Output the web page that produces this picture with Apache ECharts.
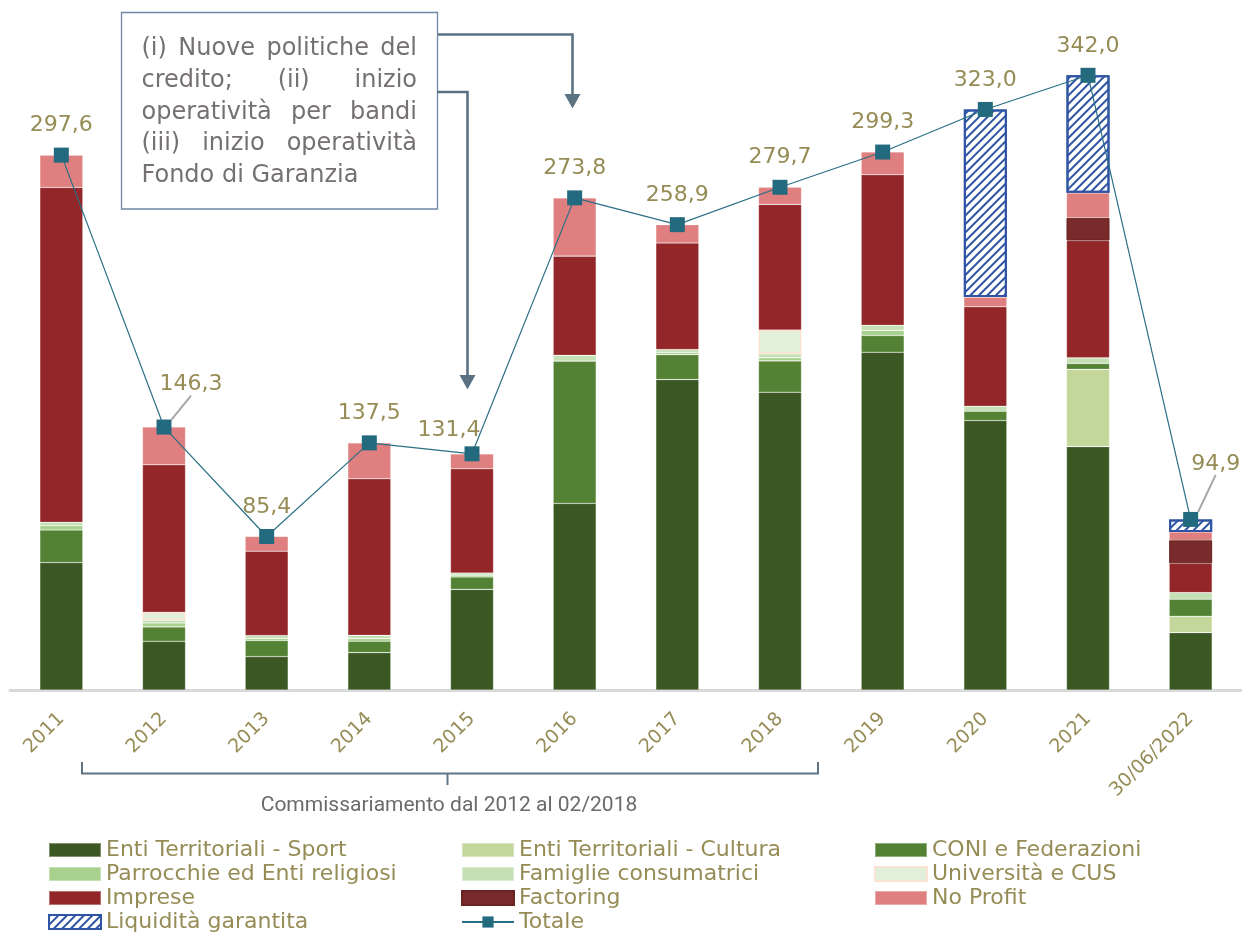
<!DOCTYPE html>
<html>
<head>
<meta charset="utf-8">
<script src="https://cdn.jsdelivr.net/npm/echarts@6/dist/echarts.min.js"></script>
<style>html,body{margin:0;padding:0;background:#fff;}#chart{width:1242px;height:933px;}</style>
</head>
<body>
<div id="chart"></div>
<script>
const categories = ['2011','2012','2013','2014','2015','2016','2017','2018','2019','2020','2021','30/06/2022'];
const sport      = [70.9, 27.1, 18.6, 20.8, 56.0, 103.8, 172.7, 165.7, 187.9, 149.9, 135.4, 31.9];
const cultura    = [0, 0, 0, 0, 0, 0, 0, 0, 0, 0, 43.0, 9.1];
const coni       = [18.1, 8.0, 8.9, 6.3, 6.9, 79.2, 13.9, 17.4, 9.3, 5.2, 3.3, 9.5];
const parrocchie = [2.4, 2.2, 1.2, 1.5, 1.0, 0, 1.2, 1.8, 2.9, 0, 0, 0];
const famiglie   = [1.9, 1.5, 1.6, 1.8, 1.2, 3.2, 1.6, 2.1, 2.8, 2.8, 3.1, 3.7];
const universita = [0, 4.4, 0, 0, 0, 0, 0, 13.3, 0, 0, 0, 0];
const imprese    = [186.3, 82.1, 46.9, 87.1, 58.0, 55.2, 59.3, 69.9, 83.8, 55.3, 65.3, 16.3];
const factoring  = [0, 0, 0, 0, 0, 0, 0, 0, 0, 0, 12.6, 12.8];
const noProfit   = [18.0, 21.0, 8.2, 20.0, 8.3, 32.4, 10.2, 9.5, 12.6, 5.4, 13.9, 4.6];
const liquidita  = [0, 0, 0, 0, 0, 0, 0, 0, 0, 104.4, 65.4, 7.0];
const totale     = [297.6, 146.3, 85.4, 137.5, 131.4, 273.8, 258.9, 279.7, 299.3, 323.0, 342.0, 94.9];

const FONT = 'DejaVu Sans';
const OLIVE = '#968c56';

function seg(name, data, color, extra) {
  return Object.assign({
    name: name, type: 'bar', stack: 'tot', barWidth: 43,
    data: data.map(v => v === 0 ? '-' : v),
    itemStyle: { color: color, borderColor: 'rgba(255,255,255,0.35)', borderWidth: 0.6 },
    emphasis: { disabled: true }
  }, extra || {});
}

const chart = echarts.init(document.getElementById('chart'), null, { renderer: 'canvas' });

// justified annotation text
const ANN_FONT = '24px "' + FONT + '"';
const measureCtx = document.createElement('canvas').getContext('2d');
measureCtx.font = ANN_FONT;
const annLines = [
  '(i) Nuove politiche del',
  'credito; (ii) inizio',
  'operatività per bandi',
  '(iii) inizio operatività',
  'Fondo di Garanzia'
];
const annLeft = 141.5, annRight = 417, annTop = 48.5, annStep = 31.9;
const annTexts = [];
annLines.forEach((line, i) => {
  const y = annTop + i * annStep;
  if (i === annLines.length - 1) {
    annTexts.push({ type: 'text', x: annLeft, y: y,
      style: { text: line, font: ANN_FONT, fill: '#767171', textVerticalAlign: 'middle', verticalAlign: 'middle' } });
    return;
  }
  const words = line.split(' ');
  const widths = words.map(w => measureCtx.measureText(w).width);
  const sum = widths.reduce((a, b) => a + b, 0);
  const gap = (annRight - annLeft - sum) / (words.length - 1);
  let x = annLeft;
  words.forEach((w, j) => {
    annTexts.push({ type: 'text', x: x, y: y,
      style: { text: w, font: ANN_FONT, fill: '#767171', textVerticalAlign: 'middle', verticalAlign: 'middle' } });
    x += widths[j] + gap;
  });
});

const ARROW = '#5b7283';
const graphics = [
  { type: 'rect', shape: { x: 121.5, y: 12.5, width: 316, height: 196.5 },
    style: { fill: '#fff', stroke: '#6f87a6', lineWidth: 1.3 }, z: 10 },
  { type: 'polyline', shape: { points: [[437, 34.5], [572.5, 34.5], [572.5, 96]] },
    style: { stroke: ARROW, lineWidth: 2.6, fill: null }, z: 9 },
  { type: 'polygon', shape: { points: [[564.5, 94], [580.5, 94], [572.5, 108.5]] },
    style: { fill: ARROW }, z: 9 },
  { type: 'polyline', shape: { points: [[437, 92], [467.5, 92], [467.5, 377]] },
    style: { stroke: ARROW, lineWidth: 2.6, fill: null }, z: 11 },
  { type: 'polygon', shape: { points: [[459.5, 375], [475.5, 375], [467.5, 389.5]] },
    style: { fill: ARROW }, z: 11 },
  { type: 'polyline', shape: { points: [[82, 762], [82, 773.5], [818, 773.5], [818, 762]] },
    style: { stroke: '#5f7484', lineWidth: 2, fill: null } },
  { type: 'line', shape: { x1: 447.5, y1: 773.5, x2: 447.5, y2: 785 },
    style: { stroke: '#5f7484', lineWidth: 2 } },
  { type: 'text', x: 449, y: 806,
    style: { text: 'Commissariamento dal 2012 al 02/2018', font: '21px Roboto', fill: '#6b6b6b',
      textAlign: 'center', align: 'center', textVerticalAlign: 'middle', verticalAlign: 'middle' } }
].concat(annTexts.map(t => Object.assign(t, { z: 12 })));

const legendCommon = {
  orient: 'vertical', itemWidth: 52, itemHeight: 14, itemGap: 2, padding: 0,
  selectedMode: false,
  textStyle: { fontFamily: FONT, fontSize: 22, color: OLIVE, lineHeight: 22, padding: [0, 0, 0, 0] }
};
const R = n => ({ name: n, icon: 'rect' });

const labelShift = {
  1: { dx: 27, dy: -13 },
  4: { dx: -23, dy: 6 },
  11: { dx: 25, dy: -26 }
};

const option = {
  animation: false,
  backgroundColor: '#ffffff',
  grid: { left: 10, top: 7, width: 1240, height: 683 },
  xAxis: {
    type: 'category', data: categories,
    axisTick: { show: false },
    axisLine: { lineStyle: { color: '#d9d9d9', width: 3 } },
    axisLabel: { rotate: 45, color: OLIVE, fontFamily: FONT, fontSize: 19, margin: 26, interval: 0 }
  },
  yAxis: { type: 'value', min: 0, max: 380, show: false, splitLine: { show: false } },
  legend: [
    Object.assign({}, legendCommon, { left: 48, top: 839,
      data: [R('Enti Territoriali - Sport'), R('Parrocchie ed Enti religiosi'), R('Imprese'), R('Liquidità garantita')] }),
    Object.assign({}, legendCommon, { left: 461, top: 839,
      data: [R('Enti Territoriali - Cultura'), R('Famiglie consumatrici'), R('Factoring'), 'Totale'] }),
    Object.assign({}, legendCommon, { left: 874, top: 839,
      data: [R('CONI e Federazioni'), R('Università e CUS'), R('No Profit')] })
  ],
  series: [
    seg('Enti Territoriali - Sport', sport, '#3b5724'),
    seg('Enti Territoriali - Cultura', cultura, '#c4d79b'),
    seg('CONI e Federazioni', coni, '#548235'),
    seg('Parrocchie ed Enti religiosi', parrocchie, '#a9d18e'),
    seg('Famiglie consumatrici', famiglie, '#c5e0b4'),
    seg('Università e CUS', universita, '#e2efda', { itemStyle: { color: '#e2efda', borderColor: '#fbe3d2', borderWidth: 1.5 } }),
    seg('Imprese', imprese, '#922628'),
    seg('Factoring', factoring, '#792a2a', { itemStyle: { color: '#792a2a', borderColor: '#6a2222', borderWidth: 1 } }),
    seg('No Profit', noProfit, '#df7f7f'),
    seg('Liquidità garantita', liquidita, '#ffffff', {
      itemStyle: {
        color: '#ffffff', borderColor: '#2f54a3', borderWidth: 2,
        decal: { symbol: 'rect', symbolSize: 1, dashArrayX: [1, 0], dashArrayY: [1.6, 3.4], rotation: -Math.PI / 4, color: '#2f54a3' }
      }
    }),
    {
      name: 'Totale', type: 'line', z: 5,
      data: totale.map((v, i) => (i === 1 || i === 11)
        ? { value: v, labelLine: { show: true, lineStyle: { color: '#a6a6a6', width: 2 } } }
        : v),
      symbol: 'rect', symbolSize: 15,
      itemStyle: { color: '#246a7e' },
      lineStyle: { color: '#2a6f84', width: 1.2 },
      label: {
        show: true, position: 'top', distance: 11, color: OLIVE, fontFamily: FONT, fontSize: 22,
        formatter: p => p.value.toFixed(1).replace('.', ',')
      },
      labelLine: { show: false, lineStyle: { color: '#a6a6a6', width: 2 } },
      labelLayout: function (params) {
        const s = labelShift[params.dataIndex];
        return s ? { dx: s.dx, dy: s.dy } : {};
      },
      emphasis: { disabled: true }
    }
  ],
  graphic: graphics
};
chart.setOption(option);
</script>
</body>
</html>
